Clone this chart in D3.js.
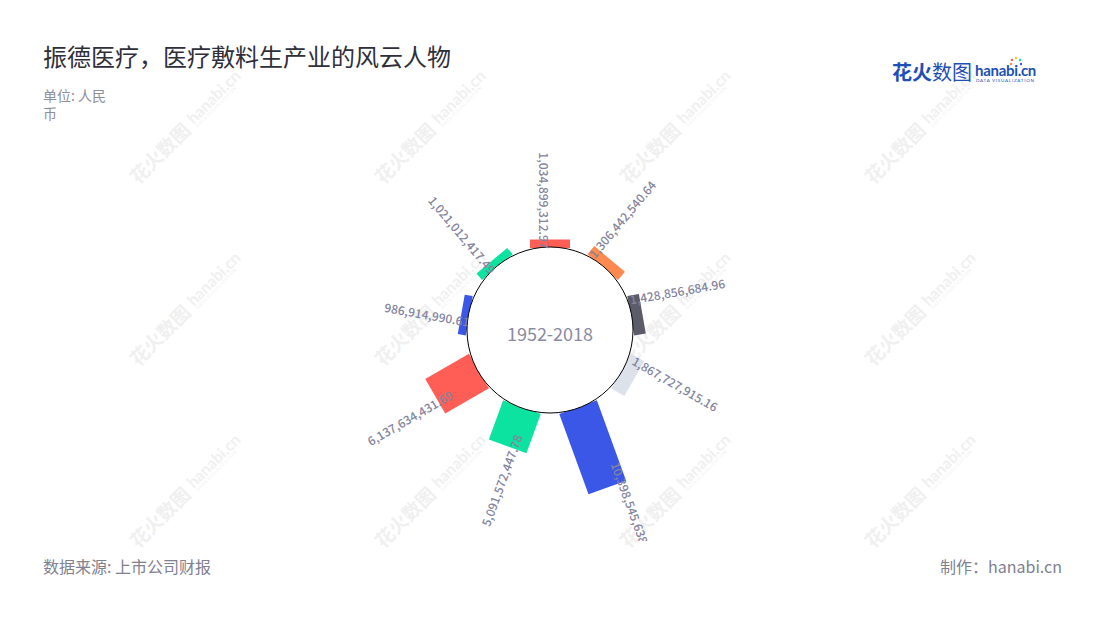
<!DOCTYPE html>
<html>
<head>
<meta charset="utf-8">
<script src="https://cdn.jsdelivr.net/npm/d3@7/dist/d3.min.js"></script>
<style>
  html, body { margin: 0; padding: 0; background: #fff; }
  svg { display: block; font-family: "Noto Sans CJK SC", "Noto Sans", sans-serif; }
</style>
</head>
<body>
<svg id="chart" width="1100" height="620"></svg>
<script>
// ---------- data ----------
const title = "振德医疗，医疗敷料生产业的风云人物";
const unitLines = ["单位: 人民", "币"];
const centerLabel = "1952-2018";
const sourceText = "数据来源: 上市公司财报";
const creditText = "制作：hanabi.cn";
const values = [1034899312.97, 1306442540.64, 1428856684.96, 1867727915.16, 10398545638.00,
                5091572447.78, 6137634431.69, 986914990.61, 1021012417.49];
const barColors = ["#ff5e57", "#ff8a4f", "#5b5b6a", "#dde1ea", "#3a57e8",
                   "#0ce3a1", "#ff5e57", "#3a57e8", "#0ce3a1"];

// ---------- layout ----------
const W = 1100, H = 620;
const cx = 550, cy = 330, R = 83, r0 = 82, barW = 40;
const svg = d3.select("#chart");

// watermarks
const wmX = [190, 435, 680, 925], wmY = [124, 306, 488];
const wm = svg.append("g");
wmY.forEach(y => wmX.forEach(x => {
  const g = wm.append("g").attr("transform", `translate(${x},${y}) rotate(-45)`);
  g.append("text").attr("x", -4).attr("text-anchor", "end").attr("dy", "0.35em")
    .attr("font-size", 19).attr("font-weight", 700).attr("fill", "#f0f0f0").text("花火数图");
  g.append("text").attr("x", 2).attr("dy", "0.2em")
    .attr("font-size", 16).attr("font-weight", 700).attr("fill", "#f0f0f0")
    .attr("font-family", "Lato, sans-serif").text("hanabi.cn");
  g.append("text").attr("x", 3).attr("y", 8)
    .attr("font-size", 4.5).attr("fill", "#f0f0f0").attr("font-family", "Lato, sans-serif")
    .attr("letter-spacing", 0.6).text("DATA VISUALIZATION");
}));

// title etc.
svg.append("text").attr("x", 43).attr("y", 66).attr("font-size", 24).attr("fill", "#2f2f3a")
  .text(title);
unitLines.forEach((t, i) => svg.append("text").attr("x", 43).attr("y", 101 + i * 18)
  .attr("font-size", 14).attr("fill", "#8e8e9c").text(t));
svg.append("text").attr("x", 43).attr("y", 573).attr("font-size", 16).attr("fill", "#80808f")
  .text(sourceText);
svg.append("text").attr("x", 1062).attr("y", 573).attr("text-anchor", "end")
  .attr("font-size", 16).attr("fill", "#80808f").text(creditText);

// logo
const logo = svg.append("g");
logo.append("text").attr("x", 892).attr("y", 80).attr("font-size", 20)
  .attr("fill", "#1d4fb6")
  .call(t => { t.append("tspan").attr("font-weight", 700).text("花火");
               t.append("tspan").attr("font-weight", 400).text("数图"); });
logo.append("text").attr("x", 975).attr("y", 76).attr("font-size", 15).attr("font-weight", 700)
  .attr("fill", "#1d4fb6").attr("font-family", "Lato, sans-serif").attr("letter-spacing", -0.3).text("hanabi.cn");
logo.append("text").attr("x", 976).attr("y", 82).attr("font-size", 4.6).attr("fill", "#1d4fb6")
  .attr("font-family", "Lato, sans-serif").attr("letter-spacing", 0.7).text("DATA VISUALIZATION");
[["#ff5e57", -4, -3], ["#ffc233", 0, -5], ["#0ce3a1", 4, -3], ["#3a57e8", 5, 1], ["#ff8a4f", -5, 1]]
  .forEach(([c, dx, dy]) => logo.append("circle").attr("cx", 1016 + dx).attr("cy", 63 + dy)
    .attr("r", 1.2).attr("fill", c));

// scales
const idx = d3.range(values.length);
const angle = d3.scaleBand().domain(idx).range([-20, 340]);
const ang = i => angle(i) + angle.bandwidth() / 2;
const len = d3.scaleLinear().domain([0, d3.max(values)]).range([0, 85.6]);

// bars
const bars = svg.append("g").attr("transform", `translate(${cx},${cy})`);
bars.selectAll("rect").data(idx).join("rect")
  .attr("transform", i => `rotate(${ang(i)})`)
  .attr("x", -barW / 2)
  .attr("y", i => -(r0 + len(values[i])))
  .attr("width", barW)
  .attr("height", i => len(values[i]))
  .attr("fill", i => barColors[i]);

// circle
svg.append("circle").attr("cx", cx).attr("cy", cy).attr("r", R)
  .attr("fill", "#fff").attr("stroke", "#000").attr("stroke-width", 1);
svg.append("text").attr("x", cx).attr("y", cy + 3).attr("text-anchor", "middle")
  .attr("dominant-baseline", "central").attr("font-size", 18).attr("fill", "#8a8ba0")
  .text(centerLabel);

// labels
svg.append("clipPath").attr("id", "lblclip").append("rect")
  .attr("x", 0).attr("y", 0).attr("width", W).attr("height", 541);
const fmt = d3.format(",.2f");
const labels = svg.append("g").attr("clip-path", "url(#lblclip)");
labels.selectAll("text").data(idx).join("text")
  .attr("transform", i => {
    const th = ang(i), t = th * Math.PI / 180;
    const L = len(values[i]);
    const lr = r0 + 0.85 * L - 8;
    const ux = Math.sin(t), uy = -Math.cos(t), nx = Math.cos(t), ny = Math.sin(t);
    const px = cx + lr * ux - 11 * nx, py = cy + lr * uy - 11 * ny;
    const right = th > 0.5 && th < 179.5;
    const phi = right ? th - 90 : th + 90;
    return `translate(${px},${py}) rotate(${phi})`;
  })
  .attr("text-anchor", i => { const th = ang(i); return (th > 0.5 && th < 179.5) ? "start" : "end"; })
  .attr("font-size", 12)
  .attr("font-weight", 500)
  .attr("fill", "#83849c")
  .text(i => fmt(values[i]));
</script>
</body>
</html>
